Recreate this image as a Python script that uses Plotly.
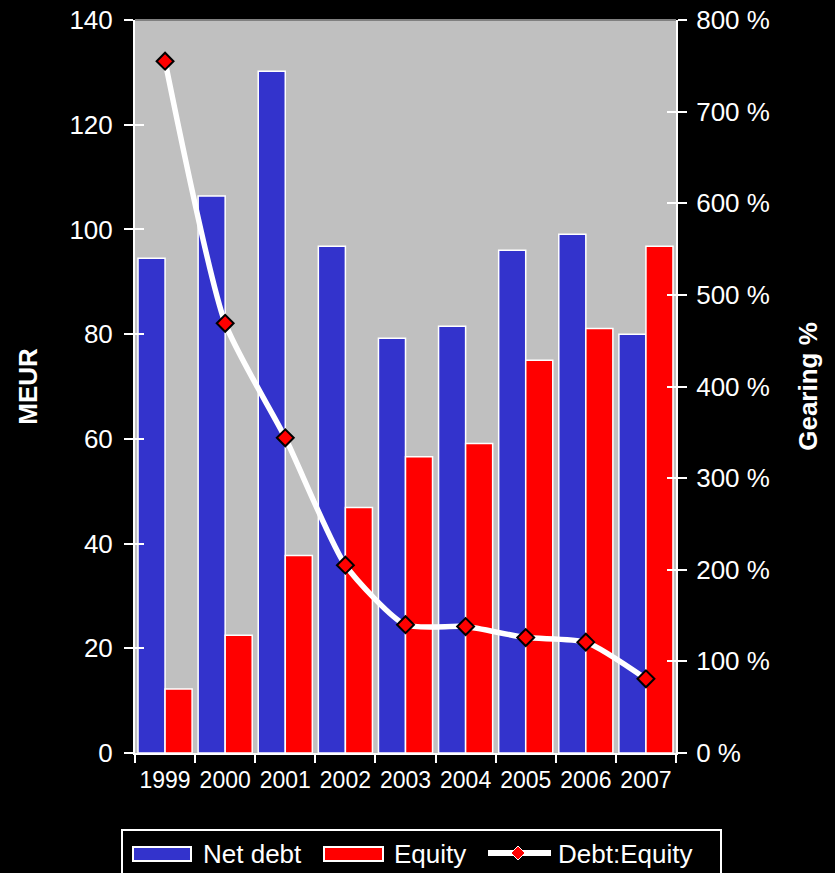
import plotly.graph_objects as go

# Net debt, equity (MEUR) and gearing (%) by year
years = ["1999", "2000", "2001", "2002", "2003", "2004", "2005", "2006", "2007"]
net_debt = [94.5, 106.4, 130.2, 96.8, 79.2, 81.5, 96.0, 99.1, 80.0]
equity = [12.2, 22.5, 37.7, 46.9, 56.6, 59.1, 75.0, 81.1, 96.8]
gearing = [755, 469, 344, 205, 140, 138, 126, 121, 81]

left_ticks = [0, 20, 40, 60, 80, 100, 120, 140]
right_ticks = [0, 100, 200, 300, 400, 500, 600, 700, 800]

BLUE = "#3333CC"
RED = "#FF0000"
GREY = "#C0C0C0"
FONT = "Liberation Sans, Arial, sans-serif"

W, H = 835, 873
ML, MR, MT, MB = 135, 159, 20, 120
PW, PH = W - ML - MR, H - MT - MB


def px(x):
    return (x - ML) / PW


def py(y):
    return (H - MB - y) / PH


fig = go.Figure()
fig.add_trace(go.Bar(
    x=years, y=net_debt, name="Net debt", showlegend=False,
    marker=dict(color=BLUE, line=dict(color="white", width=1.5)),
))
fig.add_trace(go.Bar(
    x=years, y=equity, name="Equity", showlegend=False,
    marker=dict(color=RED, line=dict(color="white", width=1.5)),
))
fig.add_trace(go.Scatter(
    x=years, y=gearing, name="Debt:Equity", yaxis="y2", showlegend=False,
    mode="lines+markers",
    line=dict(color="white", width=5.5, shape="spline", smoothing=0.6),
    marker=dict(symbol="diamond", size=13, color=RED,
                line=dict(color="black", width=2)),
))
# transparent carriers so the inner tick axes get rendered
for ax in ("y3", "y4"):
    fig.add_trace(go.Scatter(
        x=years, y=net_debt, yaxis=ax, mode="markers", showlegend=False,
        marker=dict(opacity=0), hoverinfo="skip",
    ))

axis_common = dict(
    showline=True, linecolor="white", linewidth=2,
    ticks="outside", tickcolor="white", tickwidth=2,
    showgrid=False, zeroline=False, automargin=False,
)

fig.update_layout(
    width=W, height=H,
    margin=dict(l=ML, r=MR, t=MT, b=MB, pad=0, autoexpand=False),
    paper_bgcolor="black", plot_bgcolor=GREY,
    font=dict(family=FONT, color="white"),
    barmode="group", bargap=0.1, bargroupgap=0,
    showlegend=False,
    xaxis=dict(
        type="category", range=[-0.5, len(years) - 0.5],
        tickson="boundaries", ticklen=8, tickangle=0,
        tickfont=dict(size=23), ticklabelstandoff=5,
        **axis_common,
    ),
    yaxis=dict(
        range=[0, 140], tickvals=left_ticks, ticklen=9,
        tickfont=dict(size=26), ticklabelstandoff=6,
        title=dict(text="<b>MEUR</b>", font=dict(size=26), standoff=24),
        **axis_common,
    ),
    yaxis2=dict(
        range=[0, 800], tickvals=right_ticks,
        ticktext=[f"{v} %" for v in right_ticks],
        overlaying="y", side="right", ticklen=9,
        tickfont=dict(size=26), ticklabelstandoff=4,
        title=dict(text="<b>Gearing %</b>", font=dict(size=26), standoff=30),
        **axis_common,
    ),
    # inner halves of the crossing tick marks
    yaxis3=dict(
        range=[0, 140], tickvals=left_ticks, overlaying="y", side="left",
        ticks="inside", ticklen=9, tickcolor="white", tickwidth=2,
        showticklabels=False, showline=False, showgrid=False, zeroline=False,
        automargin=False,
    ),
    yaxis4=dict(
        range=[0, 800], tickvals=right_ticks, overlaying="y", side="right",
        ticks="inside", ticklen=9, tickcolor="white", tickwidth=2,
        showticklabels=False, showline=False, showgrid=False, zeroline=False,
        automargin=False,
    ),
)

shapes = [
    # darker top edge of the plot area
    dict(type="line", xref="paper", yref="paper", x0=0, x1=1, y0=1, y1=1,
         line=dict(color="#808080", width=2)),
    # legend frame
    dict(type="rect", xref="paper", yref="paper",
         x0=px(122), x1=px(721), y0=py(900), y1=py(830),
         line=dict(color="white", width=2), fillcolor="black", layer="above"),
    # legend swatches
    dict(type="rect", xref="paper", yref="paper",
         x0=px(133), x1=px(191), y0=py(861), y1=py(847),
         line=dict(color="white", width=2), fillcolor=BLUE, layer="above"),
    dict(type="rect", xref="paper", yref="paper",
         x0=px(324), x1=px(383), y0=py(861), y1=py(847),
         line=dict(color="white", width=2), fillcolor=RED, layer="above"),
    dict(type="line", xref="paper", yref="paper",
         x0=px(488), x1=px(551), y0=py(853), y1=py(853),
         line=dict(color="white", width=6), layer="above"),
]
dmx, dmy, dsz = 518, 853, 7
shapes.append(dict(
    type="path", xref="paper", yref="paper", layer="above",
    path=(f"M {px(dmx - dsz)} {py(dmy)} L {px(dmx)} {py(dmy - dsz)} "
          f"L {px(dmx + dsz)} {py(dmy)} L {px(dmx)} {py(dmy + dsz)} Z"),
    fillcolor=RED, line=dict(color="white", width=1),
))
fig.update_layout(shapes=shapes)

legend_labels = [("Net debt", 201), ("Equity", 392), ("Debt:Equity", 556)]
for text, x in legend_labels:
    fig.add_annotation(
        text=text, xref="paper", yref="paper", x=px(x), y=py(854),
        xanchor="left", yanchor="middle", showarrow=False,
        font=dict(size=26, color="white", family=FONT),
    )

fig.write_html("out.html")
